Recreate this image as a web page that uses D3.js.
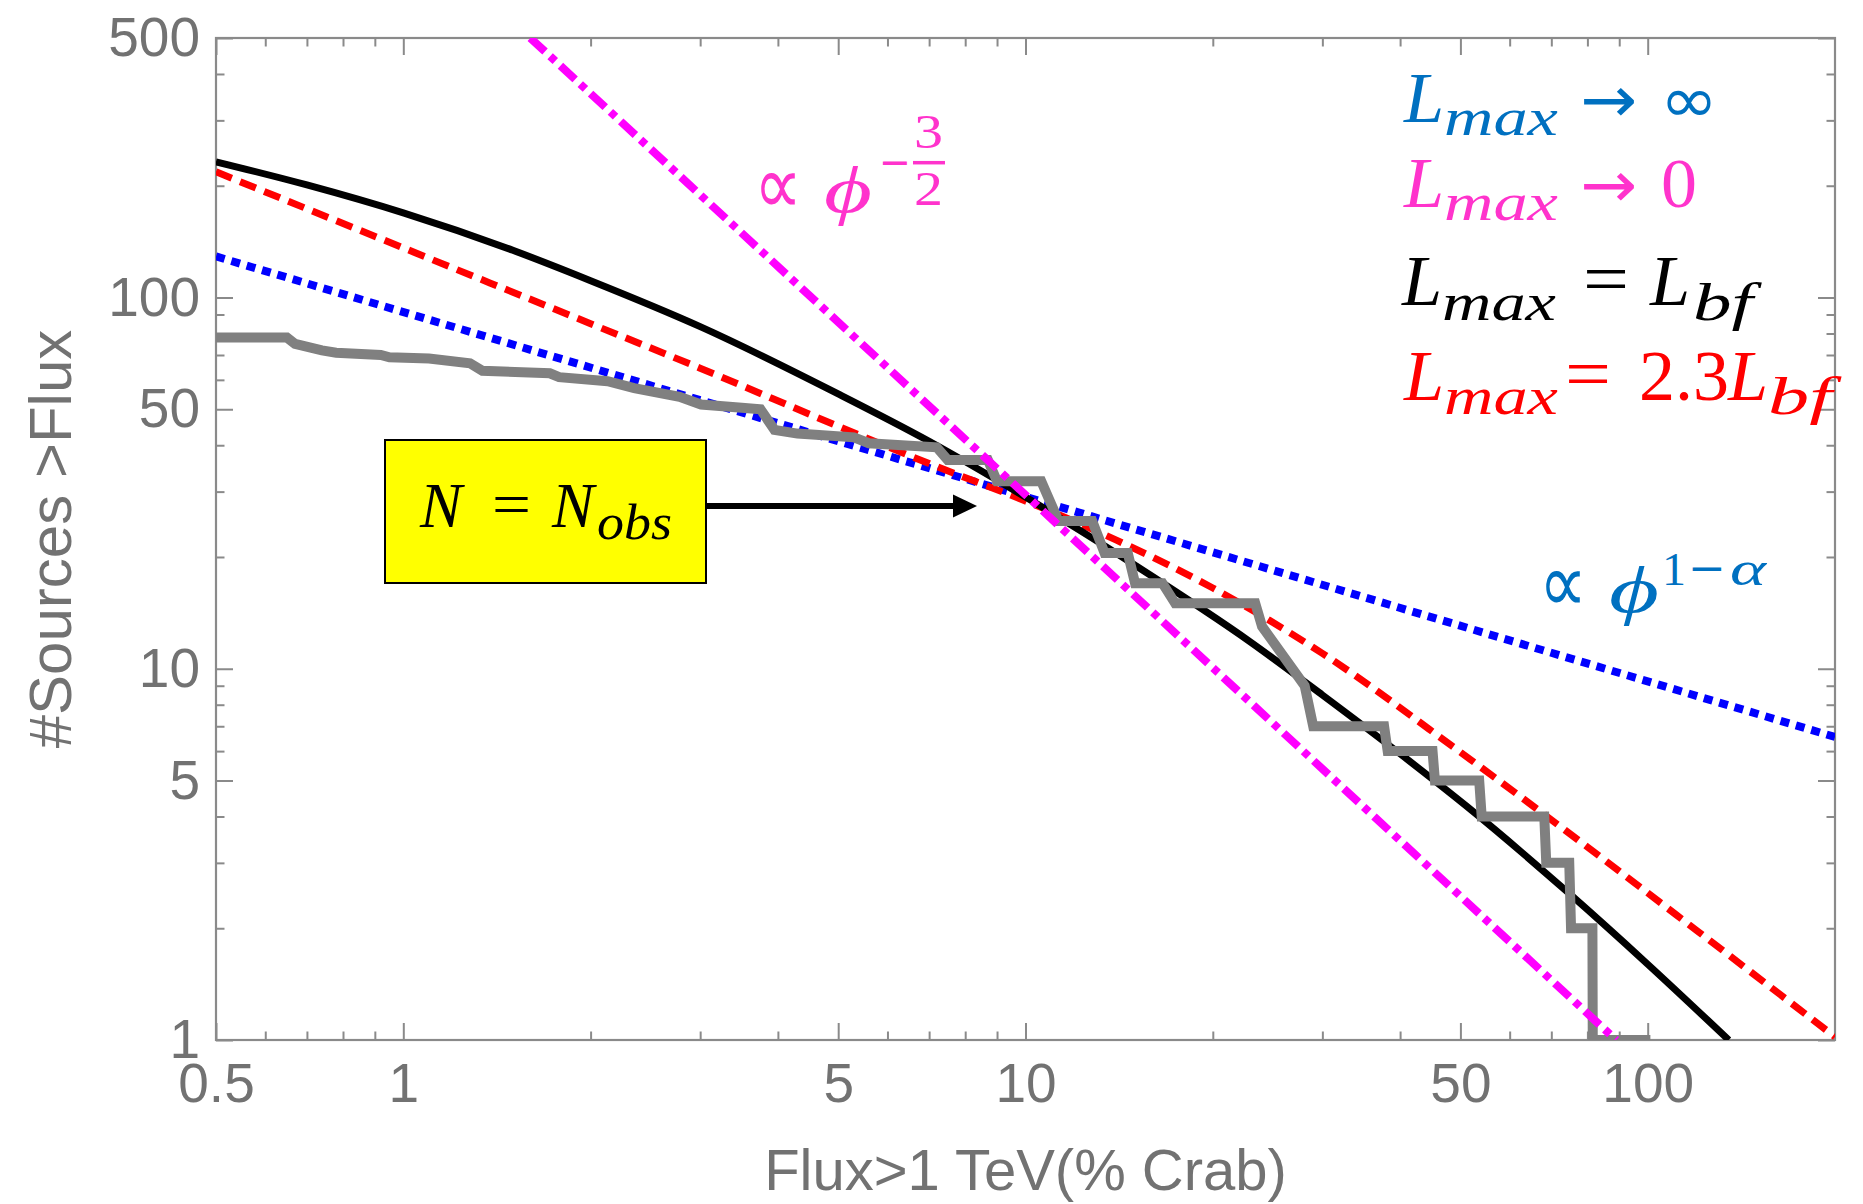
<!DOCTYPE html>
<html>
<head>
<meta charset="utf-8">
<script src="https://cdn.jsdelivr.net/npm/d3@7"></script>
<style>
  html, body { margin: 0; padding: 0; background: #ffffff; }
  svg { display: block; }
</style>
</head>
<body>
<svg id="chart" width="1863" height="1204"></svg>
<script>
// ---- Data: cumulative source counts N(>flux), flux in % Crab above 1 TeV ----

// L_max -> infinity : pure power law  ∝ φ^(1-α)
const infFlux  = [0.5, 200];
const infCount = [129, 6.55];

// L_max -> 0 : Euclidean  ∝ φ^(-3/2)
const zeroFlux  = [1.6, 89];
const zeroCount = [500, 1];

// L_max = L_bf
const bfFlux  = [0.5, 0.7, 1, 1.5, 2, 3, 5, 7, 10, 15, 23, 30, 40, 51, 75, 100, 135];
const bfCount = [232, 201, 169, 134, 111, 83.5, 55, 41, 29, 19, 11.8, 8.5, 5.9, 4.28, 2.47, 1.6, 1.0];

// L_max = 2.3 L_bf
const bf23Flux  = [0.5, 1, 2, 3, 5, 7, 10, 14, 20, 30, 50, 80, 120, 200];
const bf23Count = [218, 136, 85, 64.5, 45, 35.7, 28.3, 22.2, 16.5, 11, 5.96, 3.31, 1.97, 1.02];

// Observed catalogue (cumulative count, drawn through its corner points)
const obsFlux  = [0.5, 0.65, 0.67, 0.74, 0.78, 0.92, 0.95, 1.10, 1.28, 1.34, 1.72, 1.78, 2.13, 2.35, 2.78, 3.01,
                  3.5, 3.75, 3.95, 4.3, 5.3, 5.6, 7.2, 7.5, 8.7, 9.0, 10.6, 11.3, 12.8, 13.4, 14.6, 15.0, 16.6,
                  17.4, 23.4, 24.0, 28.1, 29.0, 37.7, 38.2, 45.1, 45.5, 53.6, 54.1, 68.2, 68.7, 74.8, 75.3,
                  81.5, 81.6, 101];
const obsCount = [78, 78, 75, 72, 71, 70, 69, 68.5, 66.5, 63.5, 62.5, 61, 59.5, 57, 54, 51.5,
                  50.5, 50, 44, 43, 42, 40.5, 39.5, 36.5, 36.5, 32, 32, 25, 25, 20.5, 20.5, 17, 17,
                  15, 15, 13, 9, 7, 7, 6, 6, 5, 5, 4, 4, 3, 3, 2,
                  2, 1, 1];

// Axis ticks
const xMajorTicks  = [0.5, 1, 5, 10, 50, 100];
const xMajorLabels = ["0.5", "1", "5", "10", "50", "100"];
const xMinorTicks  = [0.6, 0.7, 0.8, 0.9, 2, 3, 4, 6, 7, 8, 9, 20, 30, 40, 60, 70, 80, 90];
const yMajorTicks  = [1, 5, 10, 50, 100, 500];
const yMajorLabels = ["1", "5", "10", "50", "100", "500"];
const yMinorTicks  = [2, 3, 4, 6, 7, 8, 9, 20, 30, 40, 60, 70, 80, 90, 200, 300, 400];

// ---- Layout ----
const plot = { left: 216, right: 1835, top: 38, bottom: 1040 };
const svg = d3.select("#chart");
svg.append("rect").attr("width", 1863).attr("height", 1204).attr("fill", "#ffffff");

const x = d3.scaleLog().domain([0.5, 200]).range([plot.left, plot.right]);
const y = d3.scaleLog().domain([1, 500]).range([plot.bottom, plot.top]);

const frameColor = "#8a8a8a";
const labelColor = "#727272";
const MAJOR = 17, MINOR = 8.5;

svg.append("clipPath").attr("id", "plotClip")
  .append("rect")
  .attr("x", plot.left).attr("y", plot.top)
  .attr("width", plot.right - plot.left).attr("height", plot.bottom - plot.top);

// ---- Axes (ticks point inward, mirrored on top/right) ----
function styleAxis(g) {
  g.select(".domain").remove();
  g.selectAll(".tick line").attr("stroke", frameColor).attr("stroke-width", 2);
  g.selectAll(".tick text")
    .attr("fill", labelColor)
    .attr("font-family", "'Liberation Sans', Arial, sans-serif")
    .attr("font-size", 55);
}

const xLab = new Map(xMajorTicks.map((v, i) => [v, xMajorLabels[i]]));
const yLab = new Map(yMajorTicks.map((v, i) => [v, yMajorLabels[i]]));

svg.append("g").attr("transform", `translate(0,${plot.bottom})`)
  .call(d3.axisBottom(x).tickValues(xMajorTicks).tickFormat(d => xLab.get(d))
    .tickSizeInner(-MAJOR).tickSizeOuter(0).tickPadding(23))
  .call(styleAxis);
svg.append("g").attr("transform", `translate(0,${plot.bottom})`)
  .call(d3.axisBottom(x).tickValues(xMinorTicks).tickFormat("")
    .tickSizeInner(-MINOR).tickSizeOuter(0))
  .call(styleAxis);
svg.append("g").attr("transform", `translate(0,${plot.top})`)
  .call(d3.axisTop(x).tickValues(xMajorTicks).tickFormat("")
    .tickSizeInner(-MAJOR).tickSizeOuter(0))
  .call(styleAxis);
svg.append("g").attr("transform", `translate(0,${plot.top})`)
  .call(d3.axisTop(x).tickValues(xMinorTicks).tickFormat("")
    .tickSizeInner(-MINOR).tickSizeOuter(0))
  .call(styleAxis);

svg.append("g").attr("transform", `translate(${plot.left},0)`)
  .call(d3.axisLeft(y).tickValues(yMajorTicks).tickFormat(d => yLab.get(d))
    .tickSizeInner(-MAJOR).tickSizeOuter(0).tickPadding(16))
  .call(styleAxis);
svg.append("g").attr("transform", `translate(${plot.left},0)`)
  .call(d3.axisLeft(y).tickValues(yMinorTicks).tickFormat("")
    .tickSizeInner(-MINOR).tickSizeOuter(0))
  .call(styleAxis);
svg.append("g").attr("transform", `translate(${plot.right},0)`)
  .call(d3.axisRight(y).tickValues(yMajorTicks).tickFormat("")
    .tickSizeInner(-MAJOR).tickSizeOuter(0))
  .call(styleAxis);
svg.append("g").attr("transform", `translate(${plot.right},0)`)
  .call(d3.axisRight(y).tickValues(yMinorTicks).tickFormat("")
    .tickSizeInner(-MINOR).tickSizeOuter(0))
  .call(styleAxis);

// Frame
svg.append("rect")
  .attr("x", plot.left).attr("y", plot.top)
  .attr("width", plot.right - plot.left).attr("height", plot.bottom - plot.top)
  .attr("fill", "none").attr("stroke", frameColor).attr("stroke-width", 2.2);

// Axis titles
svg.append("text")
  .attr("x", (plot.left + plot.right) / 2).attr("y", 1190)
  .attr("text-anchor", "middle")
  .attr("font-family", "'Liberation Sans', Arial, sans-serif")
  .attr("font-size", 58).attr("fill", labelColor)
  .text("Flux>1 TeV(% Crab)");
svg.append("text")
  .attr("transform", `translate(71,${(plot.top + plot.bottom) / 2}) rotate(-90)`)
  .attr("text-anchor", "middle")
  .attr("font-family", "'Liberation Sans', Arial, sans-serif")
  .attr("font-size", 60).attr("fill", labelColor)
  .text("#Sources >Flux");

// ---- Curves ----
const zip = (a, b) => a.map((v, i) => [v, b[i]]);
const straight = d3.line().x(d => x(d[0])).y(d => y(d[1]));
const smooth = d3.line().x(d => x(d[0])).y(d => y(d[1])).curve(d3.curveMonotoneX);
const curves = svg.append("g").attr("clip-path", "url(#plotClip)");

curves.append("path").datum(zip(infFlux, infCount)).attr("d", straight)
  .attr("fill", "none").attr("stroke", "#0000ff").attr("stroke-width", 8)
  .attr("stroke-dasharray", "9 7");
curves.append("path").datum(zip(bf23Flux, bf23Count)).attr("d", smooth)
  .attr("fill", "none").attr("stroke", "#ff0000").attr("stroke-width", 7)
  .attr("stroke-dasharray", "17 9");
curves.append("path").datum(zip(bfFlux, bfCount)).attr("d", smooth)
  .attr("fill", "none").attr("stroke", "#000000").attr("stroke-width", 7);
curves.append("path").datum(zip(obsFlux, obsCount)).attr("d", straight)
  .attr("fill", "none").attr("stroke", "#808080").attr("stroke-width", 10)
  .attr("stroke-linejoin", "miter");
curves.append("path").datum(zip(zeroFlux, zeroCount)).attr("d", straight)
  .attr("fill", "none").attr("stroke", "#ff00ff").attr("stroke-width", 8)
  .attr("stroke-dasharray", "20 7 7 7");

// ---- Math-style annotations ----
const SERIF = "'Liberation Serif', 'DejaVu Serif', serif";
const SYM = "'DejaVu Sans', sans-serif";
function mathParts(parts, color) {
  parts.forEach(p => {
    const t = svg.append("text")
      .attr("x", p.x).attr("y", p.y)
      .attr("font-family", p.sym ? SYM : SERIF)
      .attr("font-style", p.i ? "italic" : "normal")
      .attr("font-size", p.s)
      .attr("fill", color)
      .text(p.t);
    if (p.w) t.attr("textLength", p.w).attr("lengthAdjust", "spacingAndGlyphs");
  });
}

// Legend block
const blue = "#0070c0", pink = "#ff33cc";
mathParts([
  { t: "L", x: 1404, y: 122, s: 72, i: true },
  { t: "max", x: 1444, y: 135, s: 52, i: true, w: 114 },
  { t: "→", x: 1580, y: 122, s: 64, sym: true, w: 57 },
  { t: "∞", x: 1660, y: 122, s: 64, sym: true, w: 58 }
], blue);
mathParts([
  { t: "L", x: 1404, y: 207, s: 72, i: true },
  { t: "max", x: 1444, y: 220, s: 52, i: true, w: 114 },
  { t: "→", x: 1580, y: 207, s: 64, sym: true, w: 57 },
  { t: "0", x: 1661, y: 207, s: 70, w: 36 }
], pink);
mathParts([
  { t: "L", x: 1402, y: 305, s: 72, i: true },
  { t: "max", x: 1442, y: 320, s: 52, i: true, w: 114 },
  { t: "=", x: 1583, y: 303, s: 72, w: 46 },
  { t: "L", x: 1650, y: 305, s: 72, i: true },
  { t: "bf", x: 1693, y: 320, s: 52, i: true, w: 60 }
], "#000000");
mathParts([
  { t: "L", x: 1404, y: 400, s: 72, i: true },
  { t: "max", x: 1444, y: 414, s: 52, i: true, w: 114 },
  { t: "=", x: 1565, y: 398, s: 72, w: 46 },
  { t: "2.3", x: 1639, y: 400, s: 72, w: 90 },
  { t: "L", x: 1728, y: 400, s: 72, i: true },
  { t: "bf", x: 1768, y: 414, s: 52, i: true, w: 64 }
], "#ff0000");

// ∝ φ^(-3/2)
mathParts([
  { t: "∝", x: 754, y: 214, s: 84, sym: true, w: 48 },
  { t: "ϕ", x: 824, y: 212, s: 66, i: true, w: 48 },
  { t: "−", x: 879, y: 177, s: 44, sym: true, w: 32 },
  { t: "3", x: 914, y: 148, s: 48, w: 29 },
  { t: "2", x: 914, y: 205, s: 48, w: 29 }
], pink);
svg.append("line").attr("x1", 913).attr("x2", 945).attr("y1", 162.7).attr("y2", 162.7)
  .attr("stroke", pink).attr("stroke-width", 3.5);

// ∝ φ^(1-α)
mathParts([
  { t: "∝", x: 1539, y: 612, s: 84, sym: true, w: 48 },
  { t: "ϕ", x: 1609, y: 612, s: 66, i: true, w: 50 },
  { t: "1", x: 1662, y: 585, s: 46, w: 24 },
  { t: "−", x: 1688, y: 583, s: 44, sym: true, w: 38 },
  { t: "α", x: 1730, y: 585, s: 48, i: true, w: 36 }
], blue);

// N = N_obs box with arrow
svg.append("rect")
  .attr("x", 385).attr("y", 440).attr("width", 321).attr("height", 143)
  .attr("fill", "#ffff00").attr("stroke", "#000000").attr("stroke-width", 2);
mathParts([
  { t: "N", x: 420, y: 527, s: 63, i: true, w: 42 },
  { t: "=", x: 492, y: 525, s: 62, w: 39 },
  { t: "N", x: 552, y: 527, s: 63, i: true, w: 42 },
  { t: "obs", x: 597, y: 539, s: 50, i: true, w: 75 }
], "#000000");
svg.append("line").attr("x1", 706).attr("x2", 955).attr("y1", 506).attr("y2", 506)
  .attr("stroke", "#000000").attr("stroke-width", 6);
svg.append("path").attr("d", "M977,506 L953,494.5 L953,517.5 Z").attr("fill", "#000000");
</script>
</body>
</html>
